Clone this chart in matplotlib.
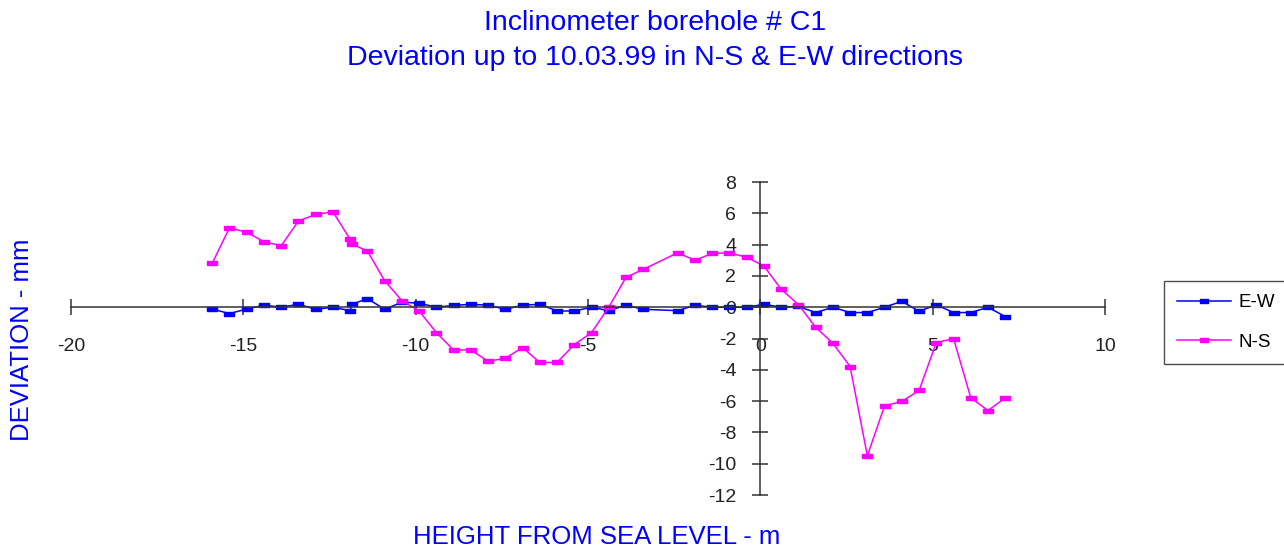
import numpy as np
import matplotlib
matplotlib.use("Agg")
import matplotlib.pyplot as plt

plt.rcParams["font.family"] = ["Liberation Sans", "DejaVu Sans"]
plt.rcParams["axes.unicode_minus"] = False

# Height from sea level (m)
height = [-15.9, -15.4, -14.9, -14.4, -13.9, -13.4, -12.9, -12.4, -11.9, -11.85,
          -11.4, -10.9, -10.4, -9.9, -9.4, -8.9, -8.4, -7.9, -7.4, -6.9,
          -6.4, -5.9, -5.4, -4.9, -4.4, -3.9, -3.4, -2.4, -1.9, -1.4,
          -0.9, -0.4, 0.1, 0.6, 1.1, 1.6, 2.1, 2.6, 3.1, 3.6,
          4.1, 4.6, 5.1, 5.6, 6.1, 6.6, 7.1]

# Deviation (mm)
ew = [-0.11, -0.41, -0.11, 0.13, 0.0, 0.19, -0.13, 0.0, -0.22, 0.19,
      0.55, -0.13, 0.32, 0.26, 0.0, 0.12, 0.19, 0.13, -0.13, 0.13,
      0.19, -0.24, -0.24, 0.0, -0.22, 0.13, -0.13, -0.22, 0.13, 0.0,
      0.0, 0.0, 0.19, 0.0, 0.05, -0.34, 0.0, -0.34, -0.34, 0.0,
      0.38, -0.26, 0.15, -0.34, -0.34, 0.0, -0.6]

ns = [2.81, 5.08, 4.79, 4.19, 3.93, 5.51, 5.93, 6.10, 4.34, 4.04,
      3.59, 1.70, 0.42, -0.24, -1.62, -2.73, -2.73, -3.45, -3.26, -2.58,
      -3.53, -3.53, -2.39, -1.62, 0.0, 1.91, 2.42, 3.48, 3.0, 3.44,
      3.48, 3.19, 2.64, 1.15, 0.17, -1.28, -2.30, -3.79, -9.49, -6.30,
      -6.02, -5.32, -2.26, -2.0, -5.79, -6.60, -5.79]

blue = "#0000FF"
magenta = "#FF00FF"
rect = [(-1, -0.5), (1, -0.5), (1, 0.5), (-1, 0.5), (-1, -0.5)]

fig = plt.figure(figsize=(12.84, 5.51), dpi=100)
ax = fig.add_axes([0.0552, 0.1016, 0.8056, 0.568])

ax.plot(height, ew, color=blue, lw=1.1, marker=rect, ms=7, label="E-W")
ax.plot(height, ns, color=magenta, lw=1.1, marker=rect, ms=7, label="N-S")

ax.set_xlim(-20, 10)
ax.set_ylim(-12, 8)
ax.set_xticks(np.arange(-20, 11, 5))
ax.set_yticks(np.arange(-12, 9, 2))

for side in ["top", "right"]:
    ax.spines[side].set_visible(False)
ax.spines["left"].set_position(("data", 0))
ax.spines["bottom"].set_position(("data", 0))
for side in ["left", "bottom"]:
    ax.spines[side].set_color("#333333")
    ax.spines[side].set_linewidth(1.1)

ax.tick_params(direction="inout", length=11, width=1.1, color="#333333",
               labelsize=14, labelcolor="#222222")
ax.tick_params(axis="x", pad=17)
ax.tick_params(axis="y", pad=12)

fig.text(0.51, 0.958, "Inclinometer borehole # C1", ha="center", va="center",
         color=blue, fontsize=20.5)
fig.text(0.51, 0.895, "Deviation up to 10.03.99 in N-S & E-W directions",
         ha="center", va="center", color=blue, fontsize=20.5)
fig.text(0.465, 0.025, "HEIGHT FROM SEA LEVEL - m", ha="center", va="center",
         color=blue, fontsize=18.5)
fig.text(0.017, 0.383, "DEVIATION - mm", ha="center", va="center",
         rotation=90, color=blue, fontsize=18.5)

leg = fig.legend(loc="center left", bbox_to_anchor=(0.899, 0.415),
                 frameon=True, fancybox=False, fontsize=13.5,
                 handlelength=2.9, labelspacing=1.2, borderpad=0.7,
                 handletextpad=0.4, markerscale=0.8)
leg.get_frame().set_edgecolor("#222222")
leg.get_frame().set_linewidth(1.0)

fig.savefig("out.png", dpi=100)
